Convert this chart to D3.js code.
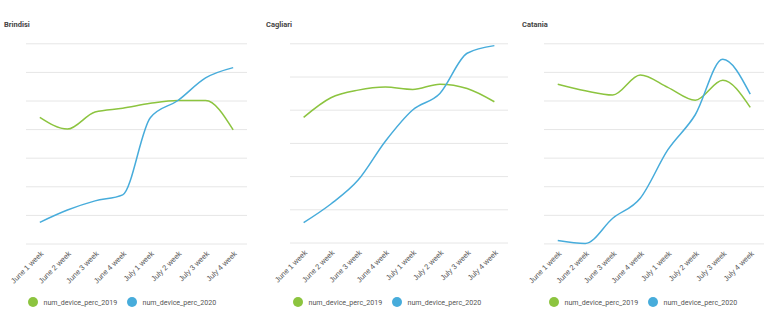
<!DOCTYPE html>
<html><head><meta charset="utf-8">
<script src="https://cdn.jsdelivr.net/npm/d3@7"></script>
<style>
body{margin:0;background:#fff;}
svg{display:block;font-family:Roboto,"Noto Sans",sans-serif;}
</style></head>
<body><svg id="c" width="768" height="324"></svg>
<script>
const weeks = ["June 1 week","June 2 week","June 3 week","June 4 week","July 1 week","July 2 week","July 3 week","July 4 week"];
const cities = ["Brindisi","Cagliari","Catania"];
const seriesNames = ["num_device_perc_2019","num_device_perc_2020"];
const colors = ["#8cc43f","#47acdb"];
// values in gridline units (no y-axis labels in source)
const brindisi2019 = [4.41,4.0,4.6,4.73,4.9,5.0,5.0,3.97];
const brindisi2020 = [0.74,1.17,1.49,1.70,4.4,5.0,5.79,6.15];
const cagliari2019 = [3.77,4.36,4.59,4.68,4.61,4.77,4.64,4.24];
const cagliari2020 = [0.6,1.16,1.88,3.05,3.99,4.49,5.7,5.93];
const catania2019 = [5.57,5.34,5.19,5.89,5.46,5.01,5.71,4.76];
const catania2020 = [0.1,0.0,0.88,1.58,3.27,4.5,6.44,5.22];
const yMax = [7,6,7];

const panels = [
  {title:cities[0], s:[brindisi2019,brindisi2020], x0:26, x1:247, yTop:43.3, yBot:243.5, tx:4, lx:33},
  {title:cities[1], s:[cagliari2019,cagliari2020], x0:290, x1:508, yTop:43.3, yBot:242.5, tx:266, lx:298},
  {title:cities[2], s:[catania2019,catania2020], x0:544, x1:764, yTop:43.3, yBot:243.4, tx:522, lx:554}
];

const svg = d3.select("#c");
panels.forEach((p,i)=>{
  const g = svg.append("g");
  const x = d3.scalePoint().domain(weeks).range([p.x0,p.x1]).padding(0.5);
  const y = d3.scaleLinear().domain([0,yMax[i]]).range([p.yBot,p.yTop]);
  g.append("text").attr("x",p.tx).attr("y",27).attr("font-size",7.5).attr("font-weight","bold")
    .attr("fill","#444").text(p.title);
  // gridlines
  const gy = g.append("g").attr("transform",`translate(${p.x0},0)`)
    .call(d3.axisLeft(y).ticks(yMax[i]).tickSize(-(p.x1-p.x0)).tickFormat(""));
  gy.select(".domain").remove();
  gy.selectAll(".tick line").attr("stroke","#e6e6e6").attr("stroke-width",1);
  // x axis labels
  const gx = g.append("g").attr("transform",`translate(0,${p.yBot})`).attr("color","#555")
    .call(d3.axisBottom(x).tickSize(0).tickPadding(0));
  gx.select(".domain").remove();
  gx.selectAll("text").attr("font-size",7.5).attr("fill","#555")
    .attr("text-anchor","end").attr("dy","0.3em")
    .attr("transform","translate(2,9) rotate(-45)");
  // lines
  p.s.forEach((vals,k)=>{
    const line = d3.line().x((d,j)=>x(weeks[j])).y(d=>y(d)).curve(d3.curveMonotoneX);
    g.append("path").datum(vals).attr("d",line).attr("fill","none")
      .attr("stroke",colors[k]).attr("stroke-width",1.5);
  });
  // legend
  const lg = g.append("g").attr("transform",`translate(${p.lx},302)`);
  seriesNames.forEach((n,k)=>{
    const off = k*99;
    lg.append("circle").attr("cx",off).attr("cy",0).attr("r",5).attr("fill",colors[k]);
    lg.append("text").attr("x",off+10.5).attr("y",0).attr("dy","0.35em").attr("font-size",7.1)
      .attr("fill","#555").text(n);
  });
});
</script></body></html>
